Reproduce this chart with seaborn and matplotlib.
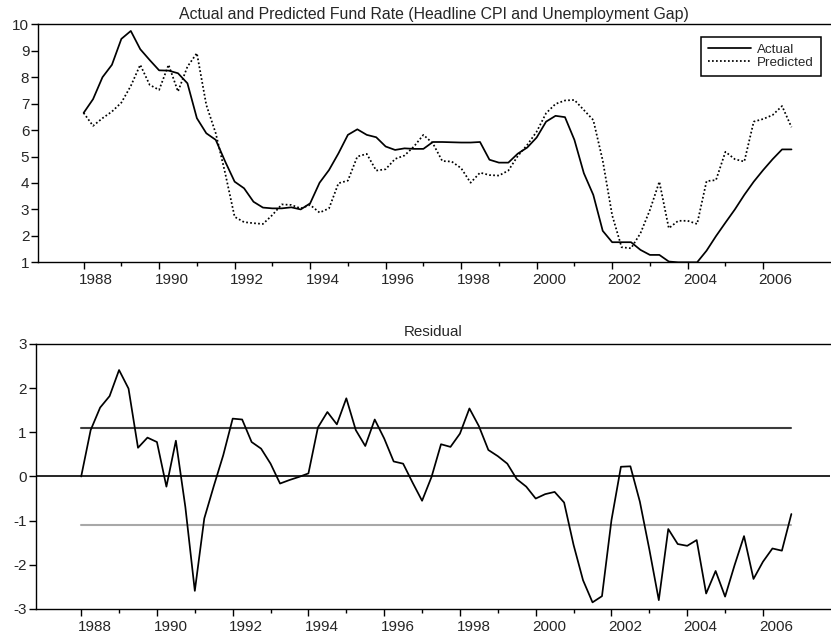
import numpy as np
import pandas as pd
import matplotlib
matplotlib.use("Agg")
import matplotlib.pyplot as plt
import matplotlib.transforms as mtransforms
import seaborn as sns
from matplotlib.lines import Line2D
from matplotlib.ticker import FixedLocator

# ---------------- data (quarterly, 1988Q1 .. 2006Q4) ----------------
start_year = 1988
end_year = 2006

actual = [
    6.65, 7.17, 8.00, 8.47,   # 1988
    9.45, 9.75, 9.06, 8.65,   # 1989
    8.26, 8.25, 8.15, 7.77,   # 1990
    6.45, 5.88, 5.63, 4.81,   # 1991
    4.05, 3.80, 3.29, 3.07,   # 1992
    3.04, 3.04, 3.08, 3.00,   # 1993
    3.23, 4.01, 4.49, 5.12,   # 1994
    5.82, 6.03, 5.82, 5.73,   # 1995
    5.38, 5.25, 5.31, 5.29,   # 1996
    5.29, 5.55, 5.55, 5.54,   # 1997
    5.53, 5.53, 5.55, 4.88,   # 1998
    4.77, 4.77, 5.11, 5.34,   # 1999
    5.72, 6.32, 6.54, 6.49,   # 2000
    5.63, 4.37, 3.55, 2.19,   # 2001
    1.76, 1.76, 1.76, 1.47,   # 2002
    1.28, 1.28, 1.03, 1.00,   # 2003
    1.00, 1.00, 1.44, 1.99,   # 2004
    2.50, 3.00, 3.55, 4.05,   # 2005
    4.49, 4.90, 5.27, 5.27,   # 2006
]

predicted = [
    6.65, 6.16, 6.45, 6.70,   # 1988
    7.04, 7.67, 8.47, 7.71,   # 1989
    7.52, 8.47, 7.46, 8.40,   # 1990
    8.91, 6.95, 5.88, 4.37,   # 1991
    2.72, 2.52, 2.48, 2.45,   # 1992
    2.79, 3.19, 3.17, 3.04,   # 1993
    3.17, 2.88, 3.04, 3.99,   # 1994
    4.09, 5.00, 5.10, 4.47,   # 1995
    4.52, 4.91, 5.04, 5.38,   # 1996
    5.82, 5.50, 4.83, 4.81,   # 1997
    4.56, 4.01, 4.39, 4.30,   # 1998
    4.28, 4.47, 5.02, 5.44,   # 1999
    5.94, 6.64, 6.99, 7.12,   # 2000
    7.14, 6.76, 6.38, 4.85,   # 2001
    2.78, 1.57, 1.53, 2.10,   # 2002
    2.98, 4.05, 2.29, 2.57,   # 2003
    2.57, 2.45, 4.07, 4.11,   # 2004
    5.18, 4.90, 4.81, 6.32,   # 2005
    6.42, 6.57, 6.91, 6.11,   # 2006
]

residual = [
    0.00, 1.05, 1.56, 1.82,      # 1988
    2.41, 1.99, 0.65, 0.88,      # 1989
    0.78, -0.23, 0.81, -0.69,    # 1990
    -2.59, -0.95, -0.22, 0.48,   # 1991
    1.31, 1.29, 0.78, 0.63,      # 1992
    0.29, -0.16, -0.08, -0.01,   # 1993
    0.07, 1.11, 1.46, 1.18,      # 1994
    1.77, 1.05, 0.69, 1.29,      # 1995
    0.86, 0.34, 0.29, -0.14,     # 1996
    -0.55, -0.01, 0.73, 0.67,    # 1997
    0.97, 1.54, 1.14, 0.60,      # 1998
    0.46, 0.29, -0.06, -0.23,    # 1999
    -0.50, -0.40, -0.35, -0.59,  # 2000
    -1.55, -2.35, -2.85, -2.71,  # 2001
    -0.99, 0.22, 0.23, -0.57,    # 2002
    -1.65, -2.80, -1.19, -1.53,  # 2003
    -1.57, -1.44, -2.65, -2.14,  # 2004
    -2.72, -2.01, -1.35, -2.32,  # 2005
    -1.93, -1.63, -1.68, -0.85,  # 2006
]

band_upper = 1.1
band_lower = -1.1

top_title = "Actual and Predicted Fund Rate (Headline CPI and Unemployment Gap)"
bottom_title = "Residual"
legend_labels = ["Actual", "Predicted"]
top_yticks = list(range(1, 11))
bottom_yticks = list(range(-3, 4))
label_years = list(range(1988, 2007, 2))
minor_years = list(range(1989, 2006, 2))

# ---------------- build frame ----------------
quarters = [y + q / 4 for y in range(start_year, end_year + 1) for q in range(4)]
df = pd.DataFrame({"t": quarters, "Actual": actual,
                   "Predicted": predicted, "Residual": residual})

# ---------------- style ----------------
sns.set_style("ticks")
plt.rcParams["font.family"] = ["Liberation Sans", "DejaVu Sans"]
plt.rcParams["axes.unicode_minus"] = False
plt.rcParams["axes.linewidth"] = 1.0
plt.rcParams["axes.edgecolor"] = "black"

fig = plt.figure(figsize=(8.31, 6.37), dpi=100)
ax1 = fig.add_axes([0.0461, 0.5882, 0.9527, 0.3736])
ax2 = fig.add_axes([0.0430, 0.0440, 0.9558, 0.4160])

xlim = (1986.80, 2007.77)
dotted = (0, (1.0, 1.3))

# ---- top panel ----
sns.lineplot(data=df, x="t", y="Actual", ax=ax1, color="black", lw=1.25)
sns.lineplot(data=df, x="t", y="Predicted", ax=ax1, color="black", lw=1.25)
ax1.get_lines()[-1].set_linestyle(dotted)

ax1.set_xlim(*xlim)
ax1.set_ylim(1, 10)
ax1.yaxis.set_major_locator(FixedLocator(top_yticks))
ax1.set_title(top_title, fontsize=11.4, pad=3.5)

handles = [Line2D([], [], color="black", lw=1.25),
           Line2D([], [], color="black", lw=1.25, linestyle=dotted)]
leg = ax1.legend(handles, legend_labels, loc="upper right",
                 bbox_to_anchor=(821 / 831, 1 - 36.7 / 637),
                 bbox_transform=fig.transFigure, borderaxespad=0,
                 fontsize=9.6, frameon=True, fancybox=False, framealpha=1,
                 edgecolor="black", handlelength=3.2, handletextpad=0.5,
                 labelspacing=0.06, borderpad=0.52)
leg.get_frame().set_linewidth(1.1)

# ---- bottom panel ----
ax2.axhline(0, color="black", lw=1.2, zorder=1)
band_t = [quarters[0], quarters[-1]]
ax2.plot(band_t, [band_upper, band_upper], color="#3c3c3c", lw=1.5, zorder=1)
ax2.plot(band_t, [band_lower, band_lower], color="#a8a8a8", lw=1.5, zorder=1)
sns.lineplot(data=df, x="t", y="Residual", ax=ax2, color="black", lw=1.25, zorder=3)

ax2.set_xlim(*xlim)
ax2.set_ylim(-3, 3)
ax2.yaxis.set_major_locator(FixedLocator(bottom_yticks))
ax2.set_title(bottom_title, fontsize=10.9, pad=5.5)

for ax, shift_px in ((ax1, 12.5), (ax2, 13.5)):
    ax.set_xlabel("")
    ax.set_ylabel("")
    ax.xaxis.set_major_locator(FixedLocator(label_years))
    ax.xaxis.set_minor_locator(FixedLocator(minor_years))
    ax.set_xticklabels([str(y) for y in label_years])
    ax.spines["right"].set_visible(False)
    ax.spines["top"].set_visible(True)
    ax.tick_params(axis="x", which="major", direction="out", length=5.2,
                   width=1.0, labelsize=11.0, pad=2.5, color="black")
    ax.tick_params(axis="x", which="minor", direction="out", length=2.6,
                   width=1.0, color="black")
    ax.tick_params(axis="y", which="major", direction="out", length=5,
                   width=1.0, labelsize=11.0, pad=1.5, color="black")
    ax.grid(False)
    offset = mtransforms.ScaledTranslation(shift_px / 100, 0, fig.dpi_scale_trans)
    for lab in ax.get_xticklabels():
        lab.set_transform(lab.get_transform() + offset)

fig.savefig("out.png", dpi=100)
